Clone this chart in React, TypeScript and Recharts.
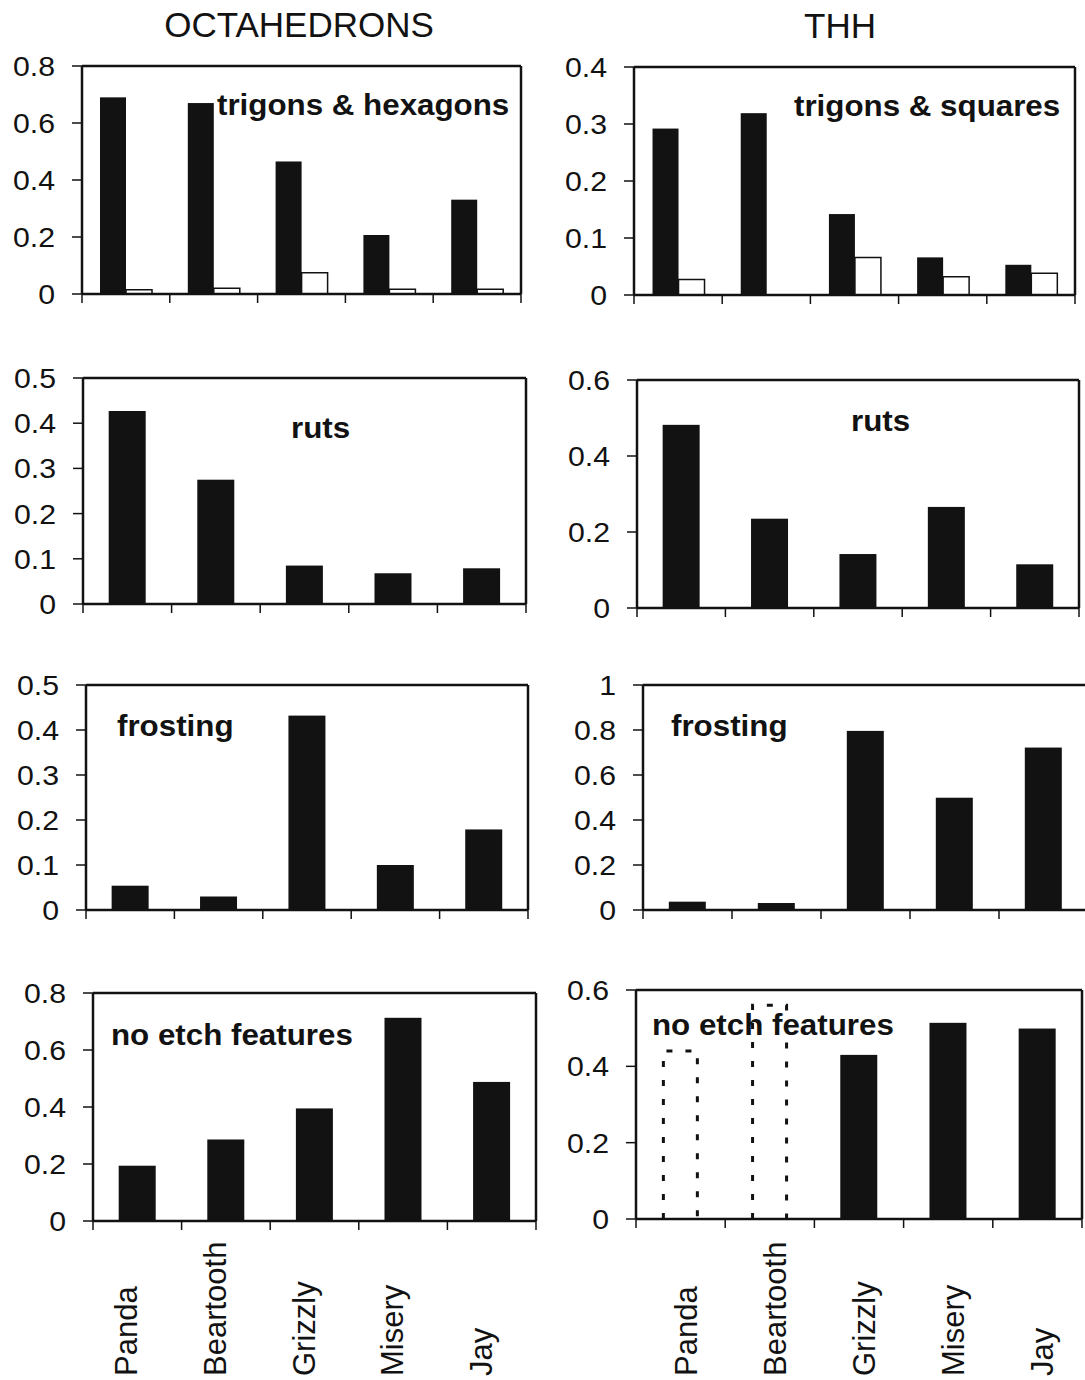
import React from "react";
import { BarChart, Bar, XAxis, YAxis } from "recharts";

// ---------- data ----------
const categories = ["Panda", "Beartooth", "Grizzly", "Misery", "Jay"];

const octTrigonsHexagons = [0.69, 0.67, 0.465, 0.207, 0.331];
const octTrigonsHexagonsOpen = [0.015, 0.02, 0.075, 0.017, 0.017];
const thhTrigonsSquares = [0.292, 0.319, 0.142, 0.066, 0.053];
const thhTrigonsSquaresOpen = [0.027, null, 0.066, 0.032, 0.038];
const octRuts = [0.427, 0.275, 0.085, 0.068, 0.079];
const thhRuts = [0.482, 0.235, 0.142, 0.266, 0.115];
const octFrosting = [0.054, 0.03, 0.432, 0.1, 0.179];
const thhFrosting = [0.037, 0.031, 0.796, 0.499, 0.722];
const octNoEtch = [0.194, 0.286, 0.395, 0.713, 0.488];
const thhNoEtch = [0.44, 0.56, 0.43, 0.514, 0.499];
const thhNoEtchOutlined = [true, true, false, false, false];

const ticks08 = [0, 0.2, 0.4, 0.6, 0.8];
const ticks04 = [0, 0.1, 0.2, 0.3, 0.4];
const ticks05 = [0, 0.1, 0.2, 0.3, 0.4, 0.5];
const ticks06 = [0, 0.2, 0.4, 0.6];
const ticks10 = [0, 0.2, 0.4, 0.6, 0.8, 1];

const columnTitles = ["OCTAHEDRONS", "THH"];

// ---------- helpers ----------
const FONT = "'Liberation Sans', Arial, Helvetica, sans-serif";
const INK = "#121212";

function buildData(main, open, outlined) {
  return categories.map((name, i) => ({
    name,
    main: main[i],
    open: open ? open[i] : null,
    outlined: outlined ? outlined[i] : false,
  }));
}

const YTick = (props) => {
  const { x, y, payload } = props;
  return (
    <g transform={`translate(${x},${y}) scale(1.08,1)`}>
      <text x={0} y={0} dy="0.36em" textAnchor="end" fontSize={28} fontFamily={FONT} fill={INK}>
        {String(payload.value)}
      </text>
    </g>
  );
};

const EmptyTick = () => <g />;

// category tick: draws boundary tick marks (band edges from the scale) and optional rotated names
const makeCatTick = (showNames, dx, dy) => (props) => {
  const { x, y, payload } = props;
  const off = payload && payload.offset != null ? payload.offset : 0;
  const isLast = payload && payload.value === categories[categories.length - 1];
  return (
    <g>
      <line x1={x - off} x2={x - off} y1={y} y2={y + 9} stroke={INK} strokeWidth={1.5} />
      {isLast && <line x1={x + off} x2={x + off} y1={y} y2={y + 9} stroke={INK} strokeWidth={1.5} />}
      {showNames && (
        <text
          transform={`translate(${x + dx},${y + dy}) rotate(-90)`}
          textAnchor="start"
          fontSize={31}
          fontFamily={FONT}
          fill={INK}
        >
          {payload.value}
        </text>
      )}
    </g>
  );
};

const MainShape = (props) => {
  const { x, y, width, height, payload } = props;
  if (height == null || isNaN(height)) return null;
  if (payload && payload.outlined) {
    return (
      <path
        d={`M${x + 1.5},${y + height} L${x + 1.5},${y} L${x + width - 1.5},${y} L${x + width - 1.5},${y + height}`}
        fill="none"
        stroke={INK}
        strokeWidth={3}
        strokeDasharray="6 13"
      />
    );
  }
  return <rect x={x} y={y} width={width} height={height} fill={INK} />;
};

// ---------- panels ----------
const panels = [
  { L: 82, T: 66, R: 521, B: 294, max: 0.8, ticks: ticks08, data: buildData(octTrigonsHexagons, octTrigonsHexagonsOpen), two: true, gap: "20.5%" },
  { L: 634, T: 67, R: 1075, B: 295, max: 0.4, ticks: ticks04, data: buildData(thhTrigonsSquares, thhTrigonsSquaresOpen), two: true, gap: "21%" },
  { L: 83, T: 378, R: 526, B: 604, max: 0.5, ticks: ticks05, data: buildData(octRuts), gap: "29%" },
  { L: 637, T: 380, R: 1079, B: 608, max: 0.6, ticks: ticks06, data: buildData(thhRuts), gap: "29%" },
  { L: 86, T: 685, R: 528, B: 910, max: 0.5, ticks: ticks05, data: buildData(octFrosting), gap: "29%" },
  { L: 643, T: 685, R: 1088, B: 910, max: 1, ticks: ticks10, data: buildData(thhFrosting), gap: "29%" },
  { L: 93, T: 993, R: 536, B: 1221, max: 0.8, ticks: ticks08, data: buildData(octNoEtch), gap: "29%", names: true, nameDx: 0, labelBottom: 1376 },
  { L: 636, T: 990, R: 1082, B: 1219, max: 0.6, ticks: ticks06, data: buildData(thhNoEtch, null, thhNoEtchOutlined), gap: "29%", names: true, nameDx: 16, labelBottom: 1376 },
];

const annotations = [
  { text: "trigons & hexagons", x: 217, y: 115 },
  { text: "trigons & squares", x: 794, y: 116 },
  { text: "ruts", x: 291, y: 438 },
  { text: "ruts", x: 851, y: 431 },
  { text: "frosting", x: 117, y: 736 },
  { text: "frosting", x: 671, y: 736 },
  { text: "no etch features", x: 111, y: 1045 },
  { text: "no etch features", x: 652, y: 1035 },
];

const Panel = ({ cfg }) => {
  const W = 96;
  const mt = 18;
  const mr = 6;
  const mb = 12;
  const topH = 1;
  const rightW = 1;
  const axisH = cfg.names ? 175 : 14;
  const width = W + (cfg.R - cfg.L) + rightW + mr;
  const height = mt + topH + (cfg.B - cfg.T) + axisH + mb;
  const axisStyle = { stroke: INK, strokeWidth: 2.5 };
  const catTick = makeCatTick(!!cfg.names, cfg.nameDx || 0, cfg.names ? cfg.labelBottom - cfg.B : 0);
  return (
    <div style={{ position: "absolute", left: cfg.L - W, top: cfg.T - mt - topH }}>
      <BarChart
        width={width}
        height={height}
        data={cfg.data}
        margin={{ top: mt, right: mr, left: 0, bottom: mb }}
        barCategoryGap={cfg.gap}
        barGap={0}
      >
        <XAxis
          xAxisId="cat"
          dataKey="name"
          height={axisH}
          axisLine={axisStyle}
          tickLine={false}
          tickSize={0}
          tickMargin={0}
          interval={0}
          tick={catTick}
        />
        <XAxis
          xAxisId="top"
          orientation="top"
          type="number"
          domain={[0, 1]}
          ticks={[0, 1]}
          allowDataOverflow
          height={topH}
          tick={EmptyTick}
          tickLine={false}
          axisLine={axisStyle}
        />
        <YAxis
          yAxisId="left"
          type="number"
          domain={[0, cfg.max]}
          ticks={cfg.ticks}
          interval={0}
          allowDataOverflow
          width={W}
          tickSize={10}
          tickMargin={17}
          axisLine={axisStyle}
          tickLine={{ stroke: INK, strokeWidth: 1.5 }}
          tick={<YTick />}
        />
        <YAxis
          yAxisId="right"
          orientation="right"
          type="number"
          domain={[0, 1]}
          ticks={[0, 1]}
          allowDataOverflow
          width={rightW}
          tick={EmptyTick}
          tickLine={false}
          axisLine={axisStyle}
        />
        <Bar
          dataKey="main"
          xAxisId="cat"
          yAxisId="left"
          fill={INK}
          shape={<MainShape />}
          isAnimationActive={false}
        />
        {cfg.two && (
          <Bar
            dataKey="open"
            xAxisId="cat"
            yAxisId="left"
            fill="#ffffff"
            stroke={INK}
            strokeWidth={1.5}
            isAnimationActive={false}
          />
        )}
      </BarChart>
    </div>
  );
};

export default function App() {
  return (
    <div
      style={{
        position: "absolute",
        left: 0,
        top: 0,
        width: 1085,
        height: 1380,
        overflow: "hidden",
        background: "#ffffff",
        fontFamily: FONT,
      }}
    >
      {panels.map((p, i) => (
        <Panel key={i} cfg={p} />
      ))}
      <svg
        width={1085}
        height={1380}
        style={{ position: "absolute", left: 0, top: 0, pointerEvents: "none" }}
      >
        <text x={299} y={37} textAnchor="middle" fontSize={35} fontFamily={FONT} fill={INK}>
          {columnTitles[0]}
        </text>
        <text x={840} y={38} textAnchor="middle" fontSize={35} fontFamily={FONT} fill={INK}>
          {columnTitles[1]}
        </text>
        {annotations.map((a, i) => (
          <g key={i} transform={`translate(${a.x},${a.y}) scale(1.08,1)`}>
            <text x={0} y={0} fontSize={29} fontWeight="bold" fontFamily={FONT} fill={INK}>
              {a.text}
            </text>
          </g>
        ))}
      </svg>
    </div>
  );
}
